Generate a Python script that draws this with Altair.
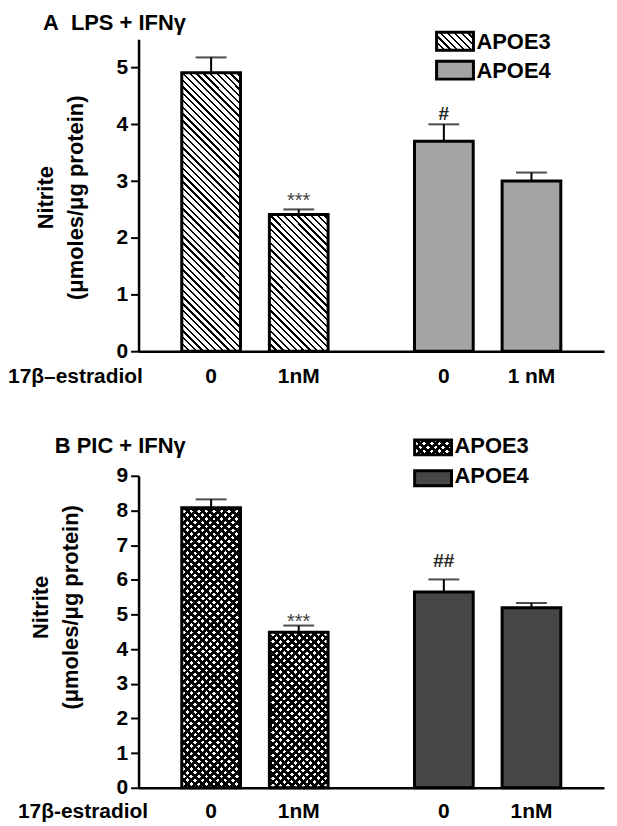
import altair as alt
import pandas as pd

# ---------------- data ----------------
genotype = ["APOE3", "APOE3", "APOE4", "APOE4"]
dose = ["0", "1nM", "0", "1nM"]
legend_names = ["APOE3", "APOE4"]

dose_labels_a = ["0", "1nM", "0", "1 nM"]
nitrite_a = [4.91, 2.41, 3.70, 3.00]
upper_a = [5.18, 2.50, 4.00, 3.15]
stars_a = ["", "***", "", ""]
hash_a = ["", "", "#", ""]
ticks_a = [0, 1, 2, 3, 4, 5]

dose_labels_b = ["0", "1nM", "0", "1nM"]
nitrite_b = [8.08, 4.49, 5.65, 5.19]
upper_b = [8.32, 4.68, 6.01, 5.33]
stars_b = ["", "***", "", ""]
hash_b = ["", "", "##", ""]
ticks_b = [0, 1, 2, 3, 4, 5, 6, 7, 8, 9]

title_a = "A\u00a0\u00a0LPS + IFNγ"
title_b = "B PIC + IFNγ"
ytitle = ["Nitrite", "(μmoles/μg protein)"]
xlabel_a = "17β–estradiol"
xlabel_b = "17β-estradiol"

# ---------------- styling ----------------
FONT = "Liberation Sans"
W, H = 467, 313
BARW = 59
CLEAR = "rgba(0,0,0,0)"
HATCH = (6.8, 0.34)
CROSS = (7.6, 0.5)


def grad(w, h, direction, period, frac, ink, paper):
    span = w + h
    c = span / (w * w + h * h)
    if direction == "back":  # "\" stripes
        g = dict(x1=0, y1=1, x2=c * w, y2=1 - c * h)
    else:  # "/" stripes
        g = dict(x1=0, y1=0, x2=c * w, y2=c * h)
    dt = period / span
    stops = []
    k = 0
    while k * dt < 1:
        a = k * dt
        b = min((k + frac) * dt, 1)
        e = min((k + 1) * dt, 1)
        stops += [(a, ink), (b, ink), (b, paper), (e, paper)]
        k += 1
    g["gradient"] = "linear"
    g["stops"] = [{"offset": round(o, 5), "color": col} for o, col in stops]
    return g


def static_text(text, x, y, **props):
    return alt.Chart(pd.DataFrame({"t": [text]})).mark_text(font=FONT, **props).encode(
        text="t:N", x=alt.value(x), y=alt.value(y))


def swatch(x0, x1, y0, y1, fill, **props):
    return alt.Chart(pd.DataFrame({"t": [0]})).mark_rect(fill=fill, **props).encode(
        x=alt.value(x0), x2=alt.value(x1), y=alt.value(y0), y2=alt.value(y1))


def panel(means, uppers, labels, stars, hashes, ymax, ticks, e4color, e3style, cfg):
    df = pd.DataFrame({"genotype": genotype, "dose": dose, "label": labels,
                       "mean": means, "upper": uppers, "stars": stars, "hash": hashes})
    df["i"] = list(range(len(df)))
    ppu = H / ymax
    x = alt.X("genotype:N",
              scale=alt.Scale(domain=legend_names, paddingInner=0.2, paddingOuter=0.1),
              axis=alt.Axis(labels=False, ticks=False, title=None, domainWidth=2.5,
                            domainColor="black"))
    xo = alt.XOffset("dose:N", scale=alt.Scale(domain=["0", "1nM"], paddingInner=0.33,
                                               paddingOuter=0.2275))
    yscale = alt.Scale(domain=[0, ymax], nice=False, zero=True)
    yaxis = alt.Axis(values=ticks, title=None, grid=False, tickSize=8, tickWidth=2,
                     tickColor="black", domainWidth=2.5, domainColor="black",
                     labelFont=FONT, labelFontSize=21, labelFontWeight="bold",
                     labelColor="black", labelPadding=3)
    y = alt.Y("mean:Q", scale=yscale, axis=yaxis)
    yu = alt.Y("upper:Q", scale=yscale, axis=yaxis)
    base = alt.Chart(df)
    layers = []
    for i in range(len(df)):
        sub = base.transform_filter(alt.datum.i == i)
        h = means[i] * ppu
        if genotype[i] == "APOE4":
            layers.append(sub.mark_bar(fill=e4color, stroke="black", strokeWidth=3)
                          .encode(x=x, xOffset=xo, y=y))
        elif e3style == "hatch":
            layers.append(sub.mark_bar(fill=grad(BARW, h, "back", *HATCH, "black", "white"),
                                       stroke="black", strokeWidth=3)
                          .encode(x=x, xOffset=xo, y=y))
        else:
            layers.append(sub.mark_bar(fill=grad(BARW, h, "back", *CROSS, "black", "white"))
                          .encode(x=x, xOffset=xo, y=y))
            layers.append(sub.mark_bar(fill=grad(BARW, h, "fwd", *CROSS, "black", CLEAR),
                                       stroke="black", strokeWidth=3)
                          .encode(x=x, xOffset=xo, y=y))
    # error bars
    layers.append(base.mark_rule(color="black", strokeWidth=2)
                  .encode(x=x, xOffset=xo, y=y, y2="upper:Q"))
    layers.append(base.mark_tick(orient="horizontal", size=31, thickness=2, color="black")
                  .encode(x=x, xOffset=xo, y=yu))
    # significance marks
    layers.append(base.mark_text(font=FONT, fontSize=20, color="#444", baseline="alphabetic",
                                 dy=cfg["star_dy"])
                  .encode(x=x, xOffset=xo, y=yu, text="stars:N"))
    layers.append(base.mark_text(font=FONT, fontSize=19, fontWeight="bold", color="#222",
                                 baseline="alphabetic", dy=cfg["hash_dy"])
                  .encode(x=x, xOffset=xo, y=yu, text="hash:N"))
    # dose labels
    layers.append(base.mark_text(font=FONT, fontSize=21, fontWeight="bold", color="black",
                                 baseline="middle")
                  .encode(x=x, xOffset=xo, y=alt.value(H + cfg["xl_dy"]), text="label:N"))
    layers.append(static_text(cfg["xlabel"], cfg["xlabel_x"], H + cfg["xl_dy"], fontSize=21,
                              fontWeight="bold", align="left", baseline="middle", color="black"))
    # y title (two rotated lines)
    layers.append(static_text(ytitle[0], cfg["yt_x"][0], cfg["yt_y"], fontSize=22,
                              fontWeight="bold", angle=270, align="center", baseline="middle",
                              color="black"))
    layers.append(static_text(ytitle[1], cfg["yt_x"][1], cfg["yt_y"], fontSize=22,
                              fontWeight="bold", angle=270, align="center", baseline="middle",
                              color="black"))
    # panel title
    layers.append(static_text(cfg["title"], cfg["title_x"], cfg["title_y"], fontSize=22,
                              fontWeight="bold", align="left", baseline="middle", color="black"))
    # legend
    lx0, lx1 = cfg["lg_x"]
    (a0, a1), (b0, b1) = cfg["lg_y"]
    sw_w = lx1 - lx0
    if e3style == "hatch":
        layers.append(swatch(lx0, lx1, a0, a1, grad(sw_w, a1 - a0, "back", *HATCH, "black", "white"),
                             stroke="black", strokeWidth=3))
    else:
        layers.append(swatch(lx0, lx1, a0, a1, grad(sw_w, a1 - a0, "back", *CROSS, "black", "white")))
        layers.append(swatch(lx0, lx1, a0, a1, grad(sw_w, a1 - a0, "fwd", *CROSS, "black", CLEAR),
                             stroke="black", strokeWidth=3))
    layers.append(swatch(lx0, lx1, b0, b1, e4color, stroke="black", strokeWidth=3))
    for name, yc in zip(legend_names, cfg["lg_text_y"]):
        layers.append(static_text(name, lx1 + 3, yc, fontSize=22, fontWeight="bold",
                                  align="left", baseline="middle", color="black"))
    return alt.layer(*layers).properties(width=W, height=H)


cfg_a = dict(star_dy=-2, hash_dy=-4, xl_dy=26, xlabel=xlabel_a, xlabel_x=-131,
             yt_x=(-93, -63), yt_y=159, title=title_a, title_x=-96, title_y=-16,
             lg_x=(299, 336), lg_y=((-7, 11), (22, 40)), lg_text_y=(2.5, 31.5))
cfg_b = dict(star_dy=2, hash_dy=-12, xl_dy=24, xlabel=xlabel_b, xlabel_x=-121,
             yt_x=(-98, -68), yt_y=132, title=title_b, title_x=-84, title_y=-30,
             lg_x=(277, 314), lg_y=((-36, -21), (-5, 10)), lg_text_y=(-30, 0))

panel_a = panel(nitrite_a, upper_a, dose_labels_a, stars_a, hash_a, 5.5, ticks_a,
                "#a4a4a4", "hatch", cfg_a)
panel_b = panel(nitrite_b, upper_b, dose_labels_b, stars_b, hash_b, 9, ticks_b,
                "#474747", "cross", cfg_b)

chart = alt.vconcat(panel_a, panel_b, spacing=48).properties(
    padding={"left": 0, "right": 5, "top": 3, "bottom": 2}
).configure_view(stroke=None)

chart.save("out.html", embed_options={"renderer": "svg", "actions": False})
